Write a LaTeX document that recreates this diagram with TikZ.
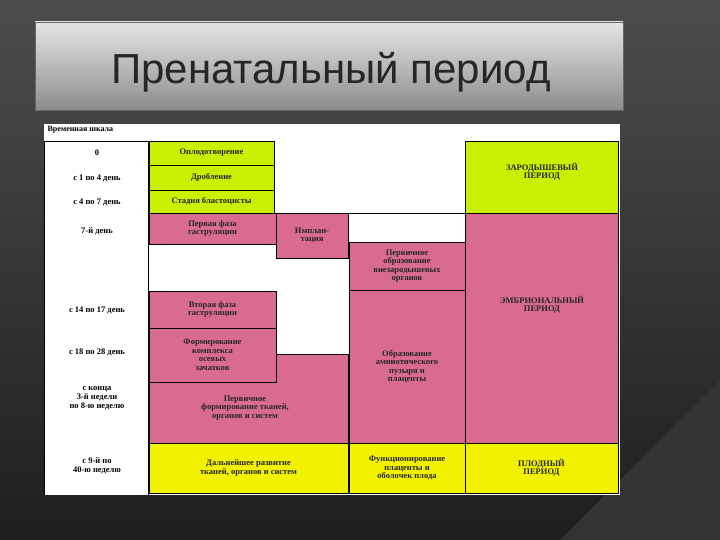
\documentclass[tikz,border=0pt]{standalone}
\usepackage{fontspec}
\setmainfont{Liberation Serif}
\setsansfont{Liberation Sans}
\begin{document}
\begin{tikzpicture}[x=1pt,y=-1pt,
  cell/.style={draw=black,line width=0.6pt},
  lbl/.style={font=\bfseries\fontsize{8.5}{8.5}\selectfont,align=center,text=black!85},
  tl/.style={font=\fontsize{8.5}{9}\selectfont\bfseries,align=center}]
\definecolor{gr}{HTML}{C8F000}
\definecolor{pk}{HTML}{D96B8E}
\definecolor{ye}{HTML}{F2F200}
\useasboundingbox (0,0) rectangle (720,540);
\shade[top color=black!70,bottom color=black!88] (0,0) rectangle (720,540);
\fill[black!80] (560,540) -- (720,380) -- (720,540) -- cycle;
\shade[top color=black!10,bottom color=black!45,draw=black!60] (35,22) rectangle (623,110);
\node[font=\sffamily\fontsize{42}{44}\selectfont,text=black!85] (title) at (331,72) {Пренатальный период};
\fill[white] (44,124) rectangle (620,495);
\node[anchor=west,font=\bfseries\fontsize{8}{9}\selectfont] (hdr) at (44,130) {Временная шкала};
% left column
\draw[cell] (44,141) -- (148,141) (148,141) -- (148,495) (44,141)--(44,495);
\foreach \t/\y [count=\i] in {0/153,с 1 по 4 день/178,с 4 по 7 день/202,7-й  день/231,с 14 по 17 день/310,с 18 по 28 день/352,{с конца\\3-й недели\\по 8-ю неделю}/398,{с 9-й по\\40-ю неделю}/466}
  \node[tl] (t\i) at (97,\y) {\t};
% green
\draw[cell,fill=gr] (149,141) rectangle (274,165) node[midway,lbl] (g1) {Оплодотворение};
\draw[cell,fill=gr] (149,165) rectangle (274,190) node[midway,lbl] (g2) {Дробление};
\draw[cell,fill=gr] (149,190) rectangle (274,213) node[midway,lbl] (g3) {Стадия бластоцисты};
% pink left
\draw[cell,fill=pk] (149,213) rectangle (276,244) node[midway,lbl] (p1) {Первая фаза\\гаструляции};
\draw[cell,fill=pk] (276,213) rectangle (348,258) node[midway,lbl] (p2) {Имплан-\\тация};
\draw[cell,fill=pk] (149,291) rectangle (276,328) node[midway,lbl] (p3) {Вторая фаза\\гаструляции};
\draw[cell,fill=pk] (149,328) rectangle (276,382) node[midway,lbl] (p4) {Формирование\\комплекса\\осевых\\зачатков};
\draw[cell,fill=pk] (149,382) -- (276,382) -- (276,354) -- (348,354) -- (348,443) -- (149,443) -- cycle;
\node[lbl] (p5) at (245,408) {Первичное\\формирование тканей,\\органов и систем};
% middle column
\draw[cell,fill=pk] (349,242) rectangle (465,290) node[midway,lbl] (m1) {Первичное\\образование\\внезародышевых\\органов};
\draw[cell,fill=pk] (349,290) rectangle (465,443) node[midway,lbl] (m2) {Образование\\амниотического\\пузыря и\\плаценты};
% right column
\draw[cell,fill=gr] (465,141) rectangle (618,213);
\node[lbl] (r1) at (542,172) {ЗАРОДЫШЕВЫЙ\\ПЕРИОД};
\draw[cell,fill=pk] (465,213) rectangle (618,443);
\node[lbl] (r2) at (542,305) {ЭМБРИОНАЛЬНЫЙ\\ПЕРИОД};
\draw[cell] (276,213) -- (465,213);
% yellow
\draw[cell,fill=ye] (149,443) rectangle (348,493) node[midway,lbl] (y1) {Дальнейшее развитие\\тканей, органов и систем};
\draw[cell,fill=ye] (349,443) rectangle (465,493) node[midway,lbl] (y2) {Функционирование\\плаценты и\\оболочек плода};
\draw[cell,fill=ye] (465,443) rectangle (618,493) node[midway,lbl] (y3) {ПЛОДНЫЙ\\ПЕРИОД};
\end{tikzpicture}
\end{document}
